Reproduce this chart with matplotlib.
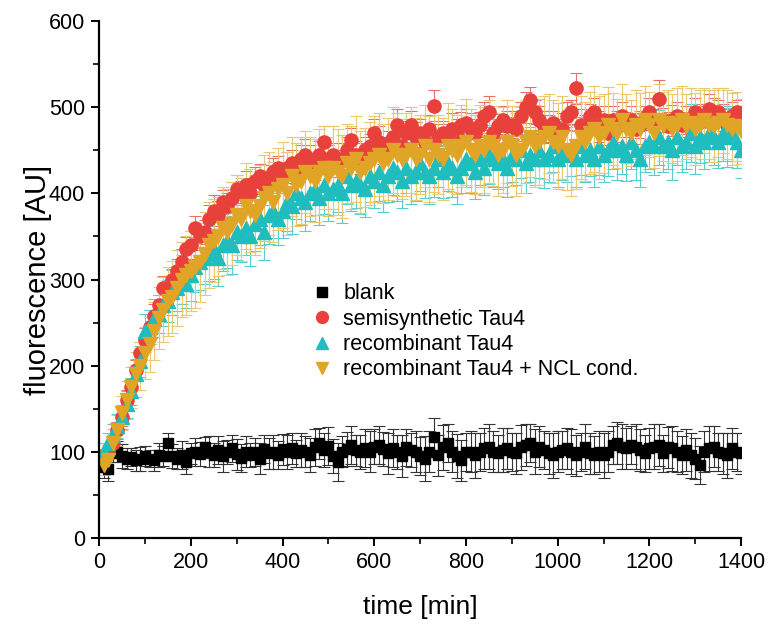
import numpy as np
import matplotlib.pyplot as plt

plt.rcParams['font.family'] = ['Liberation Sans', 'DejaVu Sans']

# time axis (measurement every 10 min)
time = np.arange(10, 1410, 10)

blank = [82, 80, 98, 100, 95, 92, 94, 90, 92, 95,
         92, 90, 96, 95, 110, 95, 92, 96, 88, 98,
         100, 97, 105, 100, 96, 102, 95, 100, 104, 97,
         93, 100, 96, 100, 92, 103, 98, 100, 96, 103,
         100, 104, 98, 102, 100, 96, 105, 110, 102, 107,
         95, 88, 100, 103, 108, 102, 100, 104, 100, 106,
         108, 103, 98, 104, 100, 95, 105, 102, 100, 95,
         92, 100, 117, 96, 105, 110, 100, 95, 90, 100,
         100, 96, 100, 104, 106, 100, 98, 102, 104, 100,
         98, 105, 108, 110, 100, 106, 102, 98, 96, 100,
         102, 104, 100, 96, 100, 106, 98, 96, 100, 96,
         100, 108, 110, 106, 104, 108, 106, 102, 98, 104,
         106, 108, 98, 105, 104, 100, 96, 102, 96, 92,
         85, 100, 104, 106, 100, 98, 96, 104, 100, 98]
blank_err = [12, 14, 10, 12, 14, 12, 10, 12, 14, 12,
             10, 12, 14, 12, 12, 14, 12, 16, 14, 12,
             16, 14, 12, 18, 14, 16, 18, 14, 16, 18,
             16, 18, 14, 16, 18, 16, 18, 20, 16, 18,
             20, 18, 16, 20, 18, 20, 22, 18, 20, 22,
             20, 22, 18, 20, 22, 18, 20, 22, 24, 20,
             22, 20, 24, 22, 20, 24, 22, 20, 24, 22,
             26, 24, 22, 24, 26, 22, 24, 26, 24, 22,
             24, 26, 22, 24, 26, 24, 22, 26, 24, 22,
             24, 26, 24, 22, 26, 24, 22, 24, 26, 24,
             22, 24, 26, 24, 22, 26, 24, 22, 24, 26,
             24, 22, 24, 26, 24, 22, 26, 24, 22, 24,
             26, 24, 22, 24, 26, 24, 22, 24, 26, 24,
             22, 24, 26, 24, 22, 24, 26, 24, 22, 24]

semi = [95, 100, 110, 125, 140, 160, 175, 195, 215, 230,
        245, 258, 270, 290, 285, 300, 310, 320, 335, 340,
        360, 350, 355, 370, 380, 375, 390, 385, 395, 405,
        400, 410, 400, 415, 420, 410, 415, 425, 430, 420,
        430, 435, 425, 440, 445, 440, 430, 445, 460, 440,
        445, 435, 440, 450, 462, 445, 440, 450, 455, 470,
        460, 450, 458, 465, 480, 455, 470, 480, 465, 470,
        460, 475, 502, 465, 470, 465, 475, 470, 480, 482,
        475, 470, 480, 490, 495, 470, 478, 485, 478, 480,
        475, 490, 500, 508, 495, 485, 478, 475, 482, 470,
        475, 490, 495, 522, 480, 475, 490, 495, 478, 485,
        470, 485, 478, 490, 480, 485, 475, 480, 488, 495,
        480, 510, 485, 478, 485, 490, 480, 485, 475, 495,
        490, 485, 498, 495, 495, 488, 480, 490, 495, 485]
semi_err = [8, 8, 10, 10, 10, 12, 10, 12, 12, 14,
            12, 14, 12, 14, 14, 12, 14, 16, 14, 16,
            14, 16, 14, 16, 18, 16, 14, 16, 18, 16,
            14, 16, 18, 16, 14, 16, 18, 16, 14, 16,
            18, 16, 14, 16, 18, 16, 14, 16, 18, 16,
            14, 16, 18, 16, 14, 16, 18, 16, 14, 16,
            18, 16, 14, 16, 18, 16, 14, 16, 18, 16,
            14, 16, 18, 16, 14, 16, 18, 16, 14, 16,
            18, 16, 14, 16, 18, 16, 14, 16, 18, 16,
            14, 16, 18, 16, 14, 16, 18, 16, 14, 16,
            18, 16, 14, 18, 18, 16, 14, 16, 18, 16,
            14, 16, 18, 16, 14, 16, 18, 16, 14, 16,
            18, 22, 14, 16, 18, 16, 14, 16, 18, 16,
            14, 16, 18, 16, 14, 16, 18, 16, 14, 16]

recomb = [100, 110, 120, 130, 140, 155, 170, 190, 205, 240,
          245, 255, 260, 270, 275, 285, 290, 300, 295, 305,
          315, 320, 325, 330, 335, 325, 340, 345, 340, 355,
          350, 360, 350, 365, 370, 355, 375, 380, 370, 380,
          390, 385, 400, 395, 390, 400, 405, 395, 410, 400,
          405, 410, 400, 420, 410, 415, 410, 405, 420, 415,
          425, 410, 420, 430, 425, 415, 430, 420, 425, 435,
          425, 420, 430, 440, 425, 435, 430, 420, 430, 440,
          435, 425, 440, 430, 445, 440, 435, 440, 430, 445,
          440, 450, 435, 445, 440, 450, 440, 445, 455, 440,
          450, 445, 450, 440, 455, 445, 450, 440, 455, 445,
          450, 460, 450, 455, 445, 460, 450, 440, 455, 460,
          455, 465, 455, 460, 450, 465, 455, 460, 470, 455,
          465, 460, 470, 465, 460, 470, 465, 470, 460, 450]
recomb_err = [10, 12, 12, 14, 14, 16, 16, 18, 18, 20,
              20, 22, 22, 24, 24, 26, 26, 28, 28, 30,
              30, 32, 30, 32, 34, 32, 30, 32, 34, 32,
              30, 32, 34, 32, 30, 32, 34, 32, 30, 32,
              34, 32, 30, 32, 34, 32, 30, 32, 34, 32,
              30, 32, 34, 32, 30, 32, 34, 32, 30, 32,
              34, 32, 30, 32, 34, 32, 30, 32, 34, 32,
              30, 32, 34, 32, 30, 32, 34, 32, 30, 32,
              34, 32, 30, 32, 34, 32, 30, 32, 34, 32,
              30, 32, 34, 32, 30, 32, 34, 32, 30, 32,
              34, 32, 30, 32, 34, 32, 30, 32, 34, 32,
              30, 32, 34, 32, 30, 32, 34, 32, 30, 32,
              34, 32, 30, 32, 34, 32, 30, 32, 34, 32,
              30, 32, 34, 32, 30, 32, 34, 32, 30, 32]

ncl = [85, 90, 110, 125, 145, 160, 175, 190, 200, 215,
       225, 240, 255, 265, 275, 280, 290, 300, 305, 310,
       315, 320, 330, 340, 345, 350, 360, 355, 365, 375,
       370, 385, 380, 375, 385, 395, 400, 390, 405, 410,
       400, 420, 410, 415, 425, 420, 415, 425, 430, 420,
       430, 425, 420, 435, 430, 440, 425, 430, 435, 440,
       445, 435, 440, 450, 445, 440, 445, 450, 440, 445,
       455, 440, 450, 445, 440, 455, 450, 445, 455, 460,
       450, 445, 455, 450, 460, 455, 445, 450, 460, 455,
       445, 450, 460, 465, 455, 460, 465, 470, 460, 455,
       465, 450, 445, 455, 465, 460, 470, 475, 465, 470,
       480, 475, 470, 485, 475, 470, 480, 475, 485, 480,
       470, 485, 478, 482, 475, 480, 485, 478, 482, 475,
       480, 485, 480, 478, 482, 485, 480, 475, 478, 472]
ncl_err = [12, 14, 16, 18, 20, 22, 24, 26, 28, 30,
           32, 34, 36, 38, 40, 42, 44, 44, 46, 46,
           48, 46, 48, 50, 48, 46, 48, 50, 48, 46,
           48, 50, 48, 46, 48, 50, 48, 46, 48, 50,
           48, 46, 48, 50, 48, 46, 48, 50, 48, 46,
           48, 50, 48, 46, 48, 50, 48, 46, 48, 50,
           48, 46, 48, 50, 48, 46, 48, 50, 48, 46,
           48, 50, 48, 46, 48, 50, 48, 46, 48, 50,
           48, 46, 48, 50, 48, 46, 48, 50, 48, 46,
           48, 50, 48, 46, 48, 50, 48, 46, 48, 50,
           48, 46, 48, 50, 48, 46, 48, 50, 48, 46,
           44, 42, 40, 42, 40, 38, 40, 42, 40, 38,
           40, 42, 40, 38, 40, 42, 40, 38, 40, 42,
           40, 38, 40, 42, 40, 38, 40, 42, 40, 38]

fig = plt.figure(figsize=(7.68, 6.24), dpi=100)
ax = fig.add_axes([0.129, 0.138, 0.836, 0.828])

ax.errorbar(time, blank, yerr=blank_err, fmt='s', color='black', ms=7.5,
            ecolor='#333333', elinewidth=0.8, capsize=4, capthick=0.8, label='blank')
ax.errorbar(time, semi, yerr=semi_err, fmt='o', color='#E8413C', ms=9.5,
            ecolor='#E8706C', elinewidth=0.8, capsize=4, capthick=0.8,
            label='semisynthetic Tau4')
ax.errorbar(time, recomb, yerr=recomb_err, fmt='^', color='#1FBDBD', ms=9.5,
            ecolor='#55CFCF', elinewidth=0.8, capsize=4, capthick=0.8,
            label='recombinant Tau4')
ax.errorbar(time, ncl, yerr=ncl_err, fmt='v', color='#E0A526', ms=9.5,
            ecolor='#EBC86E', elinewidth=0.8, capsize=4, capthick=0.8,
            label='recombinant Tau4 + NCL cond.')

ax.set_xlim(0, 1400)
ax.set_ylim(0, 600)
ax.set_xticks(np.arange(0, 1401, 200))
ax.set_xticks(np.arange(0, 1401, 100), minor=True)
ax.set_yticks(np.arange(0, 601, 100))
ax.set_yticks(np.arange(0, 601, 50), minor=True)
for s in ['top', 'right']:
    ax.spines[s].set_visible(False)
for s in ['left', 'bottom']:
    ax.spines[s].set_linewidth(1.6)
ax.tick_params(which='major', length=6, width=1.4, labelsize=15.5, direction='out', pad=4)
ax.tick_params(which='minor', length=4, width=1.2, direction='out')

ax.set_xlabel('time [min]', fontsize=19, labelpad=16)
ax.set_ylabel('fluorescence [AU]', fontsize=21, labelpad=-2)

handles, labels = ax.get_legend_handles_labels()
handles = [h[0] for h in handles]
ax.legend(handles, labels, loc='upper left', bbox_to_anchor=(0.3, 0.53),
          frameon=False, fontsize=15.5, handletextpad=0.5, labelspacing=0.2,
          handlelength=1.0, markerscale=0.9)

plt.savefig('out.png', dpi=100)
